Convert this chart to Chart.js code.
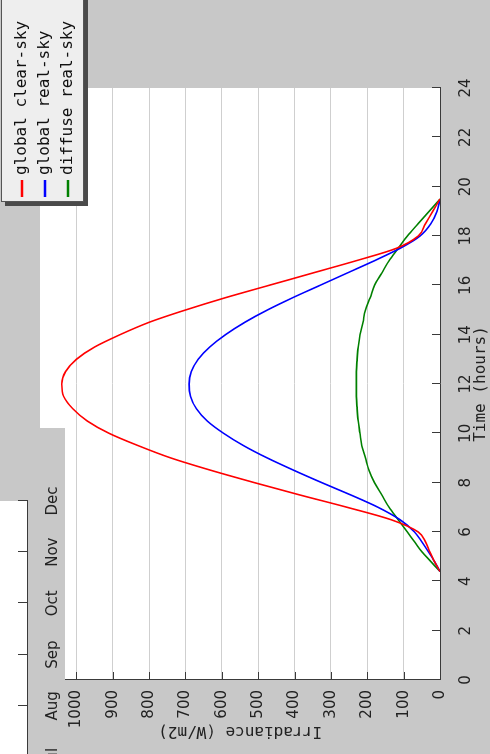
<!DOCTYPE html>
<html>
<head>
<meta charset="utf-8">
<script src="https://cdn.jsdelivr.net/npm/chart.js@4.4.1/dist/chart.umd.min.js"></script>
<style>
  html, body { margin:0; padding:0; width:490px; height:754px; overflow:hidden; background:#c8c8c8; }
  #rot { position:absolute; left:0; top:0; width:754px; height:490px; transform-origin:0 0;
         transform:translate(0px,754px) rotate(-90deg); background:#c8c8c8; overflow:hidden; }
  #main { position:absolute; left:0; top:0; }
  #panel { position:absolute; left:0; top:0; width:326px; height:65px; background:#c8c8c8; overflow:hidden; }
  #months { position:absolute; left:-50px; top:0; }
</style>
</head>
<body>
<div id="rot">
  <canvas id="main" width="754" height="490"></canvas>
  <div id="panel"><canvas id="months" width="400" height="65"></canvas></div>
</div>
<script>
// ---- data ----
const hours = [4.4, 4.8, 5.2, 5.6, 6.0, 6.5, 7, 7.5, 8, 8.5, 9, 9.5, 10, 10.5, 11, 11.5, 12, 12.5, 13, 13.5, 14, 14.5, 15, 15.5, 16, 16.5, 17, 17.5, 18, 18.5, 19, 19.5];
const globalClearSky = [0, 15, 28, 40, 60, 135, 255, 385, 510, 630, 740, 830, 910, 970, 1010, 1035, 1040, 1030, 1000, 950, 880, 800, 700, 590, 470, 350, 230, 120, 60, 40, 20, 0];
const globalRealSky  = [0, 15, 32, 50, 70, 110, 170, 245, 325, 402, 475, 540, 595, 640, 670, 686, 690, 684, 665, 633, 590, 537, 475, 405, 330, 255, 180, 110, 55, 25, 8, 0];
const diffuseRealSky = [0, 25, 50, 70, 90, 115, 140, 160, 180, 195, 205, 215, 220, 225, 228, 230, 230, 230, 228, 225, 220, 212, 205, 192, 180, 160, 140, 115, 90, 60, 30, 0];
const seriesNames = ['global clear-sky', 'global real-sky', 'diffuse real-sky'];
const seriesColors = ['#ff0000', '#0000ff', '#008000'];
const timeTicks = [0, 2, 4, 6, 8, 10, 12, 14, 16, 18, 20, 22, 24];
const irrTicks = [0, 100, 200, 300, 400, 500, 600, 700, 800, 900, 1000];
const monthLabels = ['Jul', 'Aug', 'Sep', 'Oct', 'Nov', 'Dec'];

const GRAY = '#c8c8c8';
const AXIS = '#3a3a3a';

const bgPlugin = {
  id: 'bg',
  beforeDraw(chart) {
    const {ctx, chartArea: a} = chart;
    ctx.save();
    ctx.fillStyle = GRAY;
    ctx.fillRect(0, 0, chart.width, chart.height);
    ctx.fillStyle = '#ffffff';
    ctx.fillRect(a.left, a.top, a.right - a.left, a.bottom - a.top);
    ctx.restore();
  }
};

const inTicksPlugin = {
  id: 'inTicks',
  afterDatasetsDraw(chart) {
    const {ctx, chartArea: a} = chart;
    ctx.save();
    ctx.strokeStyle = AXIS;
    ctx.lineWidth = 1;
    Object.values(chart.scales).forEach(s => {
      const len = s.options.inTickLen;
      if (!len || !s.options.display) return;
      s.ticks.forEach((t, i) => {
        const p = Math.round(s.getPixelForTick(i)) + 0.5;
        ctx.beginPath();
        if (s.isHorizontal()) { ctx.moveTo(p, a.bottom); ctx.lineTo(p, a.bottom - len); }
        else { ctx.moveTo(a.left, p); ctx.lineTo(a.left + len, p); }
        ctx.stroke();
      });
    });
    ctx.restore();
  }
};

const legendPlugin = {
  id: 'boxLegend',
  afterDraw(chart) {
    const {ctx} = chart;
    const x0 = 552, y0 = 1, w = 220, h = 83;
    ctx.save();
    ctx.fillStyle = '#4a4a4a';
    ctx.fillRect(x0 - 4, y0 + 4, w, h);
    ctx.fillStyle = '#eeeeee';
    ctx.fillRect(x0, y0, w, h);
    ctx.strokeStyle = '#555555';
    ctx.lineWidth = 1;
    ctx.strokeRect(x0 + 0.5, y0 + 0.5, w, h - 1);
    ctx.font = '16px "DejaVu Sans Mono", monospace';
    ctx.textBaseline = 'middle';
    ctx.textAlign = 'left';
    chart.data.datasets.forEach((ds, i) => {
      const y = 22 + i * 23;
      ctx.strokeStyle = ds.borderColor;
      ctx.lineWidth = 2.5;
      ctx.beginPath(); ctx.moveTo(557, y); ctx.lineTo(574, y); ctx.stroke();
      ctx.fillStyle = '#111111';
      ctx.fillText(ds.label, 579, y);
    });
    ctx.restore();
  }
};

const series = [globalClearSky, globalRealSky, diffuseRealSky];
const datasets = series.map((vals, i) => ({
  label: seriesNames[i],
  data: hours.map((h, j) => ({x: h, y: vals[j]})),
  borderColor: seriesColors[i],
  backgroundColor: seriesColors[i],
  borderWidth: 1.6,
  pointRadius: 0,
  fill: false,
  cubicInterpolationMode: 'monotone'
}));

new Chart(document.getElementById('main'), {
  type: 'line',
  data: { datasets },
  options: {
    responsive: false, animation: false, devicePixelRatio: 1,
    layout: { padding: { left: 0, right: 88, top: 40, bottom: 0 } },
    plugins: { legend: { display: false }, tooltip: { enabled: false } },
    scales: {
      x: {
        type: 'linear', min: 0, max: 24, inTickLen: 8,
        afterBuildTicks: s => { s.ticks = timeTicks.map(v => ({value: v})); },
        afterFit: s => { s.height = 50; },
        grid: { display: false },
        border: { display: true, color: AXIS, width: 1 },
        ticks: { color: '#222', padding: 9, maxRotation: 0, autoSkip: false,
                 callback: v => String(v),
                 font: { family: '"DejaVu Sans", sans-serif', size: 15 } },
        title: { display: true, text: 'Time (hours)', color: '#222',
                 font: { family: '"DejaVu Sans Mono", monospace', size: 16, lineHeight: 1 },
                 padding: { top: 0, bottom: 1 } }
      },
      y: {
        type: 'linear', min: 0, max: 1100, inTickLen: 8,
        afterBuildTicks: s => { s.ticks = irrTicks.map(v => ({value: v})); },
        afterFit: s => { s.width = 74; },
        grid: { display: true, drawTicks: false, color: '#cfcfcf', lineWidth: 1 },
        border: { display: true, color: AXIS, width: 1 },
        ticks: { color: '#222', padding: 10, autoSkip: false,
                 callback: v => String(v),
                 font: { family: '"DejaVu Sans", sans-serif', size: 15 } },
        title: { display: true, text: 'Irradiance (W/m2)', color: '#222',
                 font: { family: '"DejaVu Sans Mono", monospace', size: 16, lineHeight: 1 },
                 padding: { top: 15, bottom: 0 } }
      }
    }
  },
  plugins: [bgPlugin, inTicksPlugin, legendPlugin]
});

new Chart(document.getElementById('months'), {
  type: 'line',
  data: { labels: monthLabels, datasets: [{ data: monthLabels.map(() => null), pointRadius: 0 }] },
  options: {
    responsive: false, animation: false, devicePixelRatio: 1,
    layout: { padding: { left: 47, right: 97, top: 0, bottom: 0 } },
    plugins: { legend: { display: false }, tooltip: { enabled: false } },
    scales: {
      x: {
        type: 'category', offset: false, inTickLen: 9,
        afterFit: s => { s.height = 38; },
        grid: { display: false },
        border: { display: true, color: AXIS, width: 1 },
        ticks: { color: '#222', padding: 9, maxRotation: 0, autoSkip: false,
                 font: { family: '"DejaVu Sans", sans-serif', size: 15 } }
      },
      y: { display: false, min: 0, max: 1 }
    }
  },
  plugins: [bgPlugin, inTicksPlugin]
});
</script>
</body>
</html>
